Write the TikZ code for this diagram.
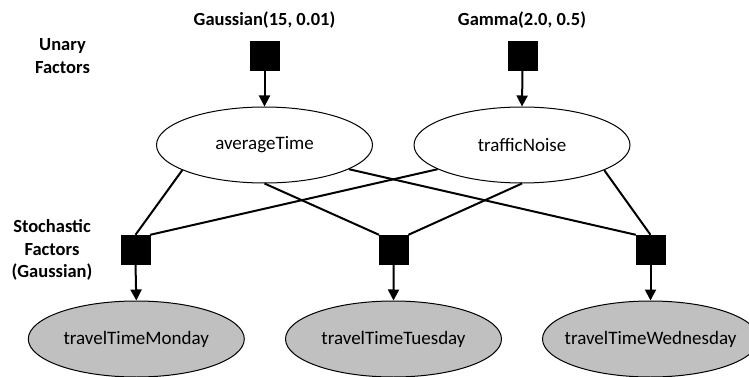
\documentclass[tikz,border=0pt]{standalone}
\usepackage{fontspec}
\setmainfont{Carlito}
\usetikzlibrary{shapes.geometric,arrows.meta}
\definecolor{obsgray}{RGB}{192,192,192}
% keep long variable names from widening their ellipse
\newcommand{\varname}[1]{\makebox[0pt][c]{#1}}
\tikzset{
  var/.style={ellipse, draw, line width=1pt, minimum width=216pt, minimum height=76pt,
    inner sep=0pt, font=\fontsize{19}{22}\selectfont},
  obsvar/.style={var, fill=obsgray},
  factor/.style={rectangle, fill=black, draw=black, minimum size=29pt, inner sep=0pt},
  edge/.style={line width=2pt},
  feed/.style={line width=2pt, -{Triangle[width=11pt,length=11pt]}},
  lbl/.style={font=\fontsize{18.5}{22.5}\selectfont\bfseries, align=center}
}
\begin{document}
\begin{tikzpicture}[x=1pt, y=-1pt]
\useasboundingbox (0,0) rectangle (749,377);

% latent variables
\node[var] (aT) at (264.5,145) {\varname{averageTime}};
\node[var] (tN) at (522,145) {\varname{trafficNoise}};

% priors
\node[factor] (fA) at (264.5,55.5) {};
\node[factor] (fN) at (522.5,55.5) {};
\node[lbl] (lA) at (264.5,20) {Gaussian(15, 0.01)};
\node[lbl] (lN) at (522,20) {Gamma(2.0, 0.5)};

% observation factors
\node[factor] (sMon) at (135.5,249.5) {};
\node[factor] (sTue) at (393.7,249.5) {};
\node[factor] (sWed) at (650.5,249.5) {};

% observed variables
\node[obsvar] (mon) at (136.3,339) {\varname{travelTimeMonday}};
\node[obsvar] (tue) at (393.5,339) {\varname{travelTimeTuesday}};
\node[obsvar] (wed) at (650.5,339) {\varname{travelTimeWednesday}};

% row labels
\node[lbl] (rowU) at (62.5,56) {Unary\\Factors};
\node[lbl] (rowS) at (52,250) {Stochastic\\Factors\\(Gaussian)};

% prior arrows
\draw[feed] (fA.south) -- (aT.north);
\draw[feed] (fN.south) -- (tN.north);

% factor links
\draw[edge] (aT.197) -- (sMon.north);
\draw[edge] (aT.south) -- (sTue.north west);
\draw[edge] (aT.344) -- (sWed.north west);
\draw[edge] (tN.196) -- (sMon.north east);
\draw[edge] (tN.south) -- (sTue.north east);
\draw[edge] (tN.343.5) -- (sWed.north);

% observation arrows
\draw[feed] (sMon.south) -- (mon.north);
\draw[feed] (sTue.south) -- (tue.north);
\draw[feed] (sWed.south) -- (wed.north);
\end{tikzpicture}
\end{document}
